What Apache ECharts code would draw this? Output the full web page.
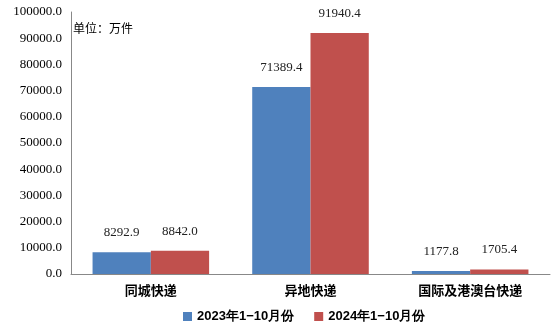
<!DOCTYPE html>
<html>
<head>
<meta charset="utf-8">
<script src="https://cdn.jsdelivr.net/npm/echarts@6/dist/echarts.min.js"></script>
<style>
  html, body { margin: 0; padding: 0; background: #fff; }
  #chart { width: 555px; height: 333px; }
</style>
</head>
<body>
<div id="chart"></div>
<script>
// Express delivery volume by business type (unit: 10k pieces)
const categories = ['同城快递', '异地快递', '国际及港澳台快递'];
const series2023 = [8292.9, 71389.4, 1177.8];
const series2024 = [8842.0, 91940.4, 1705.4];
const seriesNames = ['2023年1−10月份', '2024年1−10月份'];

const chart = echarts.init(document.getElementById('chart'));

const valueLabel = {
  show: true,
  position: 'top',
  distance: 13,
  fontFamily: 'Liberation Serif',
  fontSize: 13,
  color: '#222',
  formatter: p => p.value.toFixed(1)
};

chart.setOption({
  animation: false,
  textStyle: { fontFamily: 'Liberation Serif' },
  legend: {
    left: 178,
    top: 305,
    itemWidth: 9,
    itemHeight: 9,
    itemGap: 20,
    icon: 'rect',
    textStyle: { fontFamily: 'Liberation Sans', fontSize: 13, color: '#000', fontWeight: 'bold' },
    data: seriesNames
  },
  graphic: [{
    type: 'text',
    left: 73,
    top: 22,
    style: { text: '单位：万件', fontFamily: 'Noto Sans CJK SC', fontSize: 12, fill: '#000' }
  }],
  grid: { left: 71, right: 5, top: 12, bottom: 59 },
  xAxis: {
    type: 'category',
    data: categories,
    axisLine: { lineStyle: { color: '#888' } },
    axisTick: { show: false },
    axisLabel: {
      margin: 10,
      fontFamily: 'Noto Sans CJK SC',
      fontWeight: 'bold',
      fontSize: 13,
      color: '#000'
    }
  },
  yAxis: {
    type: 'value',
    min: 0,
    max: 100000,
    interval: 10000,
    axisLine: { show: true, lineStyle: { color: '#888' } },
    axisTick: { show: false },
    splitLine: { show: false },
    axisLabel: {
      margin: 9,
      fontFamily: 'Liberation Serif',
      fontSize: 13,
      color: '#000',
      formatter: v => v.toFixed(1)
    }
  },
  series: [
    {
      name: seriesNames[0],
      type: 'bar',
      data: series2023,
      barGap: '0%',
      barCategoryGap: '27%',
      itemStyle: { color: '#4F81BD' },
      label: valueLabel
    },
    {
      name: seriesNames[1],
      type: 'bar',
      data: series2024,
      itemStyle: { color: '#C0504D' },
      label: valueLabel
    }
  ]
});
</script>
</body>
</html>
